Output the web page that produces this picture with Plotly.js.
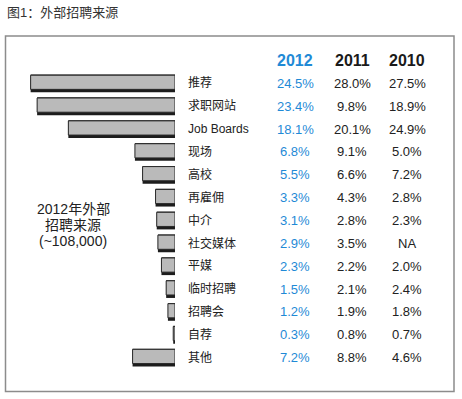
<!DOCTYPE html>
<html>
<head>
<meta charset="utf-8">
<script src="https://cdn.plot.ly/plotly-3.0.1.min.js"></script>
<style>html,body{margin:0;padding:0;background:#fff;}#chart{width:462px;height:399px;}</style>
</head>
<body>
<div id="chart"></div>
<script>
const categories = ["推荐","求职网站","Job Boards","现场","高校","再雇佣","中介","社交媒体","平媒","临时招聘","招聘会","自荐","其他"];
const values2012 = [24.5,23.4,18.1,6.8,5.5,3.3,3.1,2.9,2.3,1.5,1.2,0.3,7.2];
const labels2012 = ["24.5%","23.4%","18.1%","6.8%","5.5%","3.3%","3.1%","2.9%","2.3%","1.5%","1.2%","0.3%","7.2%"];
const labels2011 = ["28.0%","9.8%","20.1%","9.1%","6.6%","4.3%","2.8%","3.5%","2.2%","2.1%","1.9%","0.8%","8.8%"];
const labels2010 = ["27.5%","18.9%","24.9%","5.0%","7.2%","2.8%","2.3%","NA","2.0%","2.4%","1.8%","0.7%","4.6%"];
const years = ["2012","2011","2010"];
const chartTitle = "图1：外部招聘来源";
const sideText = ["2012年外部","招聘来源","(~108,000)"];

const W = 462, H = 399;
const px = v => v / W;
const py = v => 1 - v / H;
const FONT = "Liberation Sans, Arial, 'Noto Sans CJK SC', sans-serif";
const BLUE = "#1f8ad6";

// dark shadow body of each bar
const shadow = {
  type: "bar", orientation: "h", y: categories, x: values2012,
  marker: { color: "#1c1c1c", line: { width: 0 } },
  width: 0.78, offset: -0.39, hoverinfo: "skip"
};
// light grey face of each bar
const face = {
  type: "bar", orientation: "h", y: categories, x: values2012,
  marker: { color: "#bababa", line: { color: "#2a2a2a", width: 1 } },
  width: 0.62, offset: -0.36, hoverinfo: "skip"
};

const annotations = [];
const colX = [295, 352, 407];
const colData = [labels2012, labels2011, labels2010];
years.forEach((yr, j) => {
  annotations.push({
    xref: "paper", yref: "paper", x: px(colX[j]), y: py(60),
    text: "<b>" + yr + "</b>", showarrow: false, xanchor: "center", yanchor: "middle",
    font: { family: FONT, size: 16, color: j === 0 ? BLUE : "#1a1a1a" }
  });
});
categories.forEach((c, i) => {
  annotations.push({
    xref: "paper", yref: "y", x: px(186), y: c, text: c, showarrow: false,
    xanchor: "left", yanchor: "middle", font: { family: FONT, size: 12, color: "#222" }
  });
  colData.forEach((arr, j) => {
    annotations.push({
      xref: "paper", yref: "y", x: px(colX[j]), y: c, text: arr[i], showarrow: false,
      xanchor: "center", yanchor: "middle",
      font: { family: FONT, size: 13, color: j === 0 ? BLUE : "#222" }
    });
  });
});
const sideY = [209, 225, 241];
sideText.forEach((t, k) => {
  annotations.push({
    xref: "paper", yref: "paper", x: px(73), y: py(sideY[k]), text: t, showarrow: false,
    xanchor: "center", yanchor: "middle", font: { family: FONT, size: 14, color: "#222" }
  });
});
annotations.push({
  xref: "paper", yref: "paper", x: px(5), y: py(12), text: chartTitle, showarrow: false,
  xanchor: "left", yanchor: "middle", font: { family: FONT, size: 13, color: "#333" }
});

const layout = {
  width: W, height: H,
  margin: { l: 0, r: 0, t: 0, b: 0 },
  paper_bgcolor: "#fff", plot_bgcolor: "rgba(0,0,0,0)",
  showlegend: false, barmode: "overlay",
  xaxis: { domain: [0, px(175)], range: [29.7, 0], visible: false, fixedrange: true },
  yaxis: { domain: [py(369), py(72)], autorange: "reversed", visible: false, fixedrange: true, type: "category" },
  shapes: [{
    type: "rect", xref: "paper", yref: "paper",
    x0: px(5.5), x1: px(454), y0: py(391.5), y1: py(36),
    line: { color: "#8c8c8c", width: 1.5 }, fillcolor: "rgba(0,0,0,0)"
  }],
  annotations: annotations
};

Plotly.newPlot("chart", [shadow, face], layout, { displayModeBar: false, staticPlot: true });
</script>
</body>
</html>
